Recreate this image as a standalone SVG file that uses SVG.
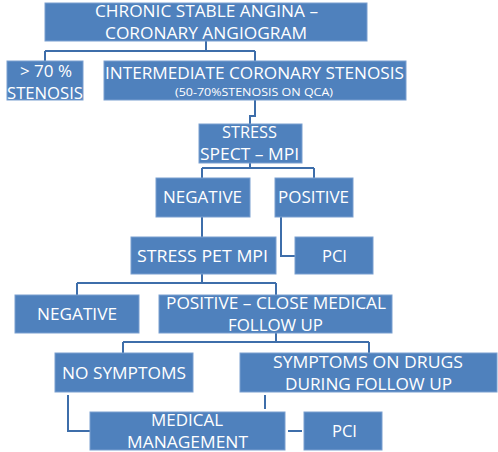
<svg xmlns="http://www.w3.org/2000/svg" width="498" height="452" viewBox="0 0 498 452">
<style>
.box{fill:#4F81BD;stroke:#7A9FD0;stroke-width:1}
.t{font-family:"Open Sans","Liberation Sans",sans-serif;font-size:17px;fill:#FFFFFF;text-anchor:middle}
.s{font-size:10.5px}
.c{fill:none;stroke:#3E6EAA;stroke-width:2}
</style>
<rect width="498" height="452" fill="#FFFFFF"/>
<g id="connectors">
<path class="c" d="M206 41V51M45 51H255M45 51V61M255 51V61"/>
<path class="c" d="M255 100V116H250V124"/>
<path class="c" d="M250 163V168M202 168H314M202 168V178M314 168V178"/>
<path class="c" d="M202 217V237"/>
<path class="c" d="M281 217V256H295"/>
<path class="c" d="M202 274V283M77 283H276M77 283V295M276 283V295"/>
<path class="c" d="M276 333V342M123 342H369M123 342V353M369 342V353"/>
<path class="c" d="M68 395V431H90"/>
<path class="c" d="M265 395V409"/>
<path class="c" d="M288 431H302"/>
</g>
<g id="n1"><rect class="box" x="45" y="3" width="322" height="38"/>
<text class="t" x="206.5" y="17" textLength="223" lengthAdjust="spacingAndGlyphs">CHRONIC STABLE ANGINA –</text>
<text class="t" x="206" y="39" textLength="202" lengthAdjust="spacingAndGlyphs">CORONARY ANGIOGRAM</text></g>
<g id="n2"><rect class="box" x="7" y="61" width="76" height="39"/>
<text class="t" x="46" y="77" textLength="52" lengthAdjust="spacingAndGlyphs">&gt; 70 %</text>
<text class="t" x="45" y="99" textLength="76" lengthAdjust="spacingAndGlyphs">STENOSIS</text></g>
<g id="n3"><rect class="box" x="104" y="61" width="302" height="39"/>
<text class="t" x="254.5" y="78.5" textLength="299" lengthAdjust="spacingAndGlyphs">INTERMEDIATE  CORONARY STENOSIS</text>
<text class="t s" x="254" y="96" textLength="158" lengthAdjust="spacingAndGlyphs">(50-70%STENOSIS ON  QCA)</text></g>
<g id="n4"><rect class="box" x="199" y="124" width="103" height="39"/>
<text class="t" x="249.5" y="138" textLength="55" lengthAdjust="spacingAndGlyphs">STRESS</text>
<text class="t" x="249.5" y="160" textLength="99" lengthAdjust="spacingAndGlyphs">SPECT – MPI</text></g>
<g id="n5"><rect class="box" x="156" y="178" width="94" height="39"/>
<text class="t" x="202.5" y="203" textLength="79" lengthAdjust="spacingAndGlyphs">NEGATIVE</text></g>
<g id="n6"><rect class="box" x="275" y="178" width="78" height="39"/>
<text class="t" x="313.5" y="203" textLength="71" lengthAdjust="spacingAndGlyphs">POSITIVE</text></g>
<g id="n7"><rect class="box" x="131" y="237" width="145" height="37"/>
<text class="t" x="202.5" y="262" textLength="131" lengthAdjust="spacingAndGlyphs">STRESS PET  MPI</text></g>
<g id="n8"><rect class="box" x="295" y="237" width="78" height="37"/>
<text class="t" x="334.5" y="262" textLength="25" lengthAdjust="spacingAndGlyphs">PCI</text></g>
<g id="n9"><rect class="box" x="15" y="295" width="124" height="38"/>
<text class="t" x="77" y="320" textLength="80" lengthAdjust="spacingAndGlyphs">NEGATIVE</text></g>
<g id="n10"><rect class="box" x="159" y="295" width="233" height="38"/>
<text class="t" x="276" y="309" textLength="220" lengthAdjust="spacingAndGlyphs">POSITIVE – CLOSE  MEDICAL</text>
<text class="t" x="275.5" y="331" textLength="95" lengthAdjust="spacingAndGlyphs">FOLLOW UP</text></g>
<g id="n11"><rect class="box" x="55" y="353" width="138" height="39"/>
<text class="t" x="124" y="379" textLength="124" lengthAdjust="spacingAndGlyphs">NO SYMPTOMS</text></g>
<g id="n12"><rect class="box" x="240" y="353" width="257" height="39"/>
<text class="t" x="368" y="368" textLength="190" lengthAdjust="spacingAndGlyphs">SYMPTOMS  ON DRUGS</text>
<text class="t" x="368.5" y="390" textLength="167" lengthAdjust="spacingAndGlyphs">DURING FOLLOW UP</text></g>
<g id="n13"><rect class="box" x="90" y="412" width="195" height="38"/>
<text class="t" x="187" y="426" textLength="72" lengthAdjust="spacingAndGlyphs">MEDICAL</text>
<text class="t" x="187.5" y="448" textLength="121" lengthAdjust="spacingAndGlyphs">MANAGEMENT</text></g>
<g id="n14"><rect class="box" x="304" y="412" width="78" height="38"/>
<text class="t" x="344.5" y="437" textLength="25" lengthAdjust="spacingAndGlyphs">PCI</text></g>
</svg>
